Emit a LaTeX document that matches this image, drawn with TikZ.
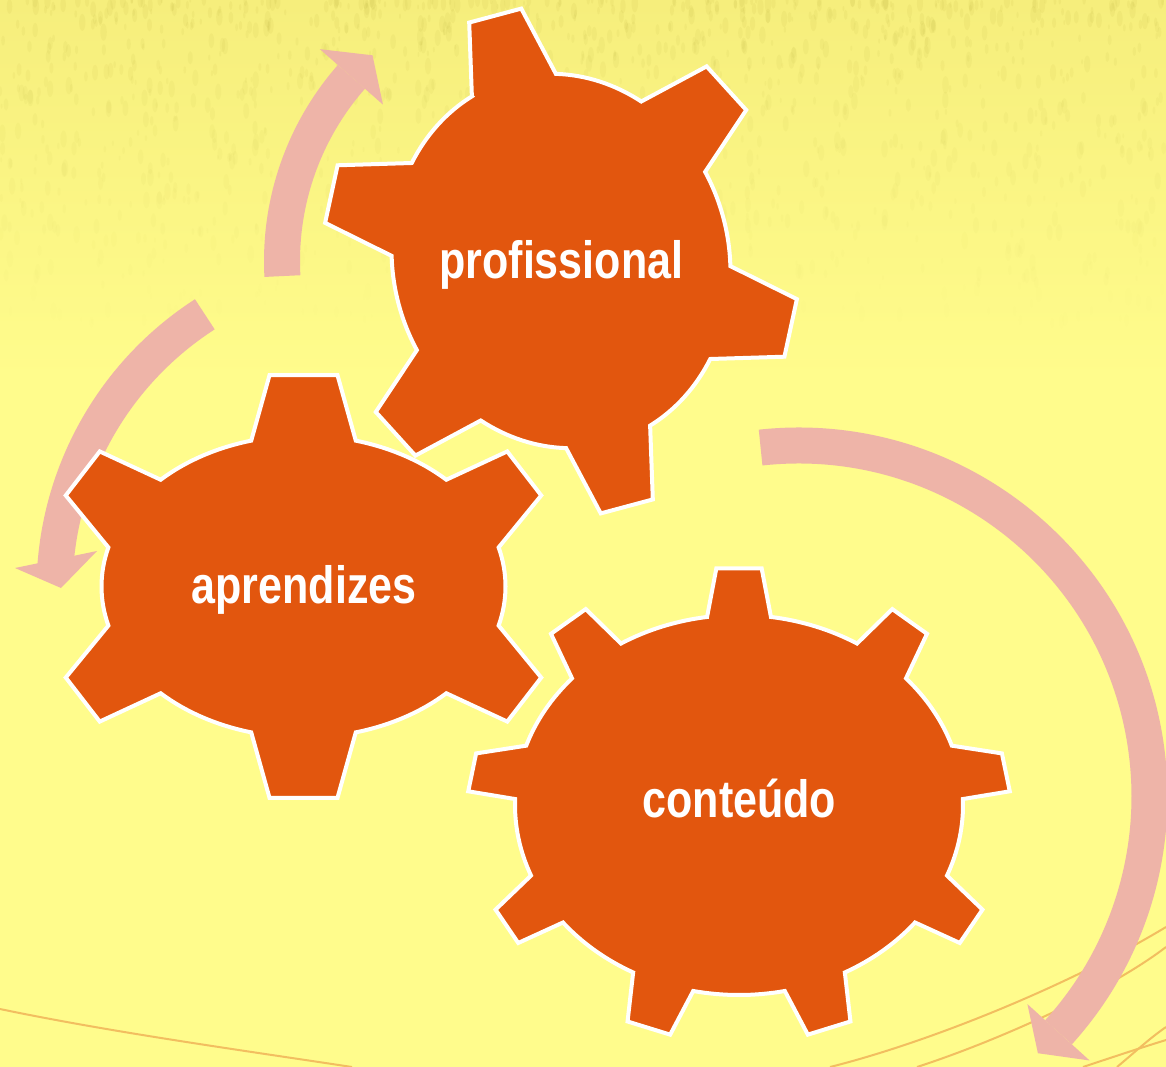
\documentclass[tikz,border=0pt]{standalone}
\usepackage{fontspec}
\newfontfamily\gearfont[FakeStretch=0.82]{Liberation Sans}
\usetikzlibrary{calc}
\definecolor{gearorange}{RGB}{226,86,14}
\definecolor{arrowpink}{RGB}{238,180,168}
\definecolor{bgyellow}{RGB}{255,252,140}
\definecolor{bgtop}{RGB}{246,238,124}
\definecolor{texolive}{RGB}{185,175,60}
\definecolor{decoline}{RGB}{242,190,96}

% #1,#2 centre, #3 rotation, #4 #5 body semi-axes, #6 teeth, #7 half tooth angle, #8 tooth height, #9 tip ratio
\newcommand\drawgear[9]{%
  \begin{scope}[shift={(#1,#2)},rotate=#3]
    \pgfmathsetmacro\gA{#4}%
    \pgfmathsetmacro\gB{#5}%
    \pgfmathsetmacro\gStep{360/#6}%
    \pgfmathtruncatemacro\gN{#6-1}%
    \pgfmathsetmacro\gD{#7}%
    \pgfmathsetmacro\gH{#8}%
    \pgfmathsetmacro\gK{#9}%
    \path[gearshape] ({\gA*cos(-90-\gD)},{\gB*sin(-90-\gD)})
      \foreach \i [evaluate=\i as \gT using {-90+\i*\gStep},
                   evaluate=\i as \gP using {atan2(sin(-90+\i*\gStep)/\gB,cos(-90+\i*\gStep)/\gA)},
                   evaluate=\i as \gS using {-90+\i*\gStep+\gD},
                   evaluate=\i as \gE using {-90+(\i+1)*\gStep-\gD}] in {0,...,\gN} {
        -- ({\gA*cos(\gT)*cos(\gD)+\gH*cos(\gP)+\gK*\gA*sin(\gT)*sin(\gD)},
            {\gB*sin(\gT)*cos(\gD)+\gH*sin(\gP)-\gK*\gB*cos(\gT)*sin(\gD)})
        -- ({\gA*cos(\gT)*cos(\gD)+\gH*cos(\gP)-\gK*\gA*sin(\gT)*sin(\gD)},
            {\gB*sin(\gT)*cos(\gD)+\gH*sin(\gP)+\gK*\gB*cos(\gT)*sin(\gD)})
        -- ({\gA*cos(\gS)},{\gB*sin(\gS)})
        arc[start angle=\gS, end angle=\gE, x radius=\gA, y radius=\gB]
      } -- cycle;
  \end{scope}}

\begin{document}
\begin{tikzpicture}[x=1pt,y=-1pt,
  gearshape/.style={fill=gearorange, draw=white, line width=4pt, line join=miter},
  arrowband/.style={draw=arrowpink, line width=36pt},
  arrowhead/.style={fill=arrowpink},
  decostroke/.style={draw=decoline, line width=2pt},
  geartext/.style={font=\gearfont\bfseries\fontsize{52.5}{60}\selectfont, text=white, anchor=base, inner sep=0pt}]
  \useasboundingbox (0,0) rectangle (1166,1067);
  % background
  \fill[bgyellow] (0,0) rectangle (1166,1067);
  \shade[top color=bgtop, bottom color=bgyellow] (0,0) rectangle (1166,380);
  \begin{scope}
    \clip (0,0) rectangle (1166,1067);
    \pgfmathsetseed{4321}
    \foreach \k in {1,...,1400}{
      \pgfmathsetmacro\tx{rnd*1166}
      \pgfmathsetmacro\ty{(rnd^1.6)*330}
      \pgfmathsetmacro\tr{1.5+rnd*4}
      \pgfmathsetmacro\top{0.10*(1-\ty/330)}
      \fill[texolive, opacity=\top] (\tx,\ty) ellipse [x radius=\tr*0.6, y radius=\tr*1.6];
    }
  \end{scope}
  % decorative lines
  \draw[decostroke] (0,1009) .. controls (110,1032) and (240,1050) .. (352,1067);
  \draw[decostroke] (830,1067) .. controls (930,1042) and (1070,985) .. (1166,927);
  \draw[decostroke] (917,1067) .. controls (1000,1040) and (1110,990) .. (1166,947);
  \draw[decostroke] (1083,1067) .. controls (1110,1058) and (1140,1048) .. (1166,1040);
  \draw[decostroke] (1117,1067) .. controls (1135,1052) and (1150,1038) .. (1166,1027);
  % circular arrows
  \coordinate (cA) at (561,261);
  \coordinate (cB) at (382.5,590);
  \coordinate (cC) at (798.5,796.5);
  \begin{scope}[shift={(cA)}]
    \draw[arrowband] (176.9:279) arc[start angle=176.9, end angle=221.3, radius=279];
    \fill[arrowhead] (221.3:237) -- (221.3:321) -- (227.5:279) -- cycle;
  \end{scope}
  \begin{scope}[shift={(cB)}]
    \draw[arrowband] (237.2:328) arc[start angle=237.2, end angle=184.0, radius=328];
  \end{scope}
  \fill[arrowhead] (15,568) -- (61,588) -- (97,551) -- cycle;
  \begin{scope}[shift={(cC)}]
    \draw[arrowband] (-96.2:351) arc[start angle=-96.2, end angle=42.2, radius=351];
    \fill[arrowhead] (42.2:309) -- (42.2:393) -- (47.0:351) -- cycle;
  \end{scope}
  % gears
  \drawgear{561}{261}{15}{168}{188.5}{6}{15}{72}{0.62}
  \drawgear{303.5}{586.5}{0}{202}{151}{6}{15}{65.5}{0.65}
  \drawgear{739}{805}{0}{224}{190}{9}{8.2}{48.5}{0.71}
  % labels
  \node[geartext] (prof) at (561.3,278.3) {profissional};
  \node[geartext] (apr) at (304,603) {aprendizes};
  \node[geartext] (cont) at (739.4,817) {conteúdo};
\end{tikzpicture}
\end{document}
